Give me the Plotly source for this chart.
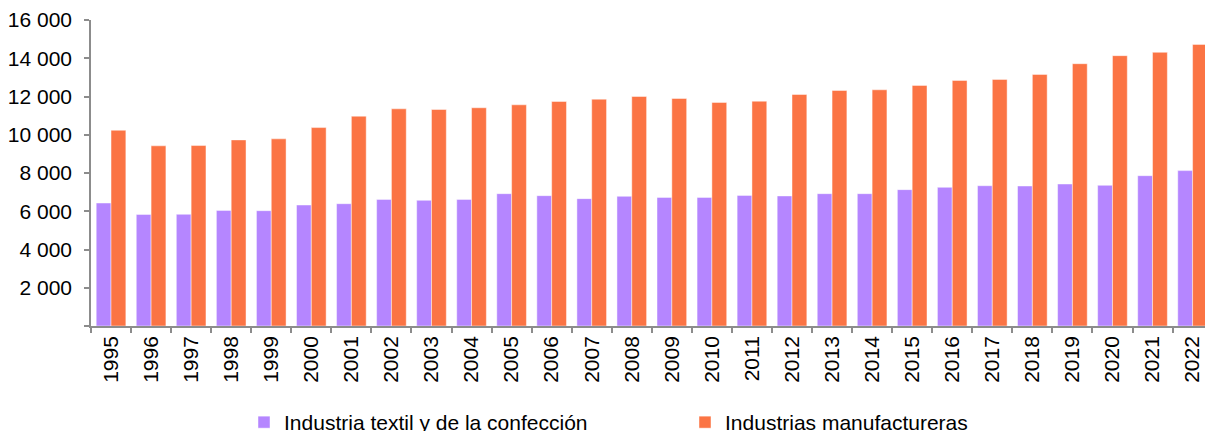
import plotly.graph_objects as go

# Años de la serie
years = [str(y) for y in range(1995, 2023)]

# Industria textil y de la confección
textil = [6430, 5835, 5840, 6045, 6030, 6325, 6395, 6620, 6570, 6620,
          6920, 6815, 6660, 6780, 6725, 6725, 6830, 6800, 6920, 6920,
          7130, 7250, 7335, 7320, 7425, 7355, 7860, 8125]

# Industrias manufactureras
manufactureras = [10235, 9420, 9435, 9730, 9785, 10375, 10970, 11355, 11320, 11410,
                  11565, 11740, 11860, 12000, 11895, 11690, 11755, 12105, 12315, 12350,
                  12580, 12840, 12895, 13155, 13715, 14135, 14310, 14725]

y_ticks = list(range(0, 16001, 2000))
y_labels = ["" if v == 0 else f"{v:,}".replace(",", " ") for v in y_ticks]

PURPLE = "#B586FF"
ORANGE = "#FB7444"
AXIS = "#8C8C8C"
FONT = "Liberation Sans, Arial, sans-serif"

fig = go.Figure()
fig.add_trace(go.Bar(
    x=years, y=textil, name="Industria textil y de la confección",
    marker=dict(color=PURPLE, line=dict(color="rgba(255,255,255,0.45)", width=1)),
))
fig.add_trace(go.Bar(
    x=years, y=manufactureras, name="Industrias manufactureras",
    marker=dict(color=ORANGE, line=dict(color="rgba(255,255,255,0.45)", width=1)),
))

fig.update_layout(
    width=1205, height=431,
    margin=dict(l=91, r=0, t=20, b=105),
    paper_bgcolor="white", plot_bgcolor="white",
    barmode="group", bargap=0.26, bargroupgap=0,
    font=dict(family=FONT, color="black"),
    showlegend=True,
    legend=dict(
        orientation="h", xref="container", yref="container",
        x=0.2025, xanchor="left", y=1 - 422.5 / 431, yanchor="middle",
        font=dict(size=21, family=FONT, color="black"),
        entrywidth=396, entrywidthmode="pixels",
        itemclick=False, bgcolor="rgba(0,0,0,0)",
    ),
)

fig.update_xaxes(
    type="category", range=[-0.5, 27.31],
    showline=True, linecolor=AXIS, linewidth=1.5,
    ticks="outside", tickson="boundaries", ticklen=5, tickcolor=AXIS, tickwidth=1.5,
    tickangle=-90, tickfont=dict(size=21, family=FONT, color="black"),
    showgrid=False, zeroline=False,
)
fig.update_yaxes(
    range=[0, 16000], tickvals=y_ticks, ticktext=y_labels,
    showline=True, linecolor=AXIS, linewidth=1.5,
    ticks="outside", ticklen=5, tickcolor=AXIS, tickwidth=1.5,
    ticklabelstandoff=8,
    tickfont=dict(size=21, family=FONT, color="black"),
    showgrid=False, zeroline=False,
)

fig.write_html("out.html")
